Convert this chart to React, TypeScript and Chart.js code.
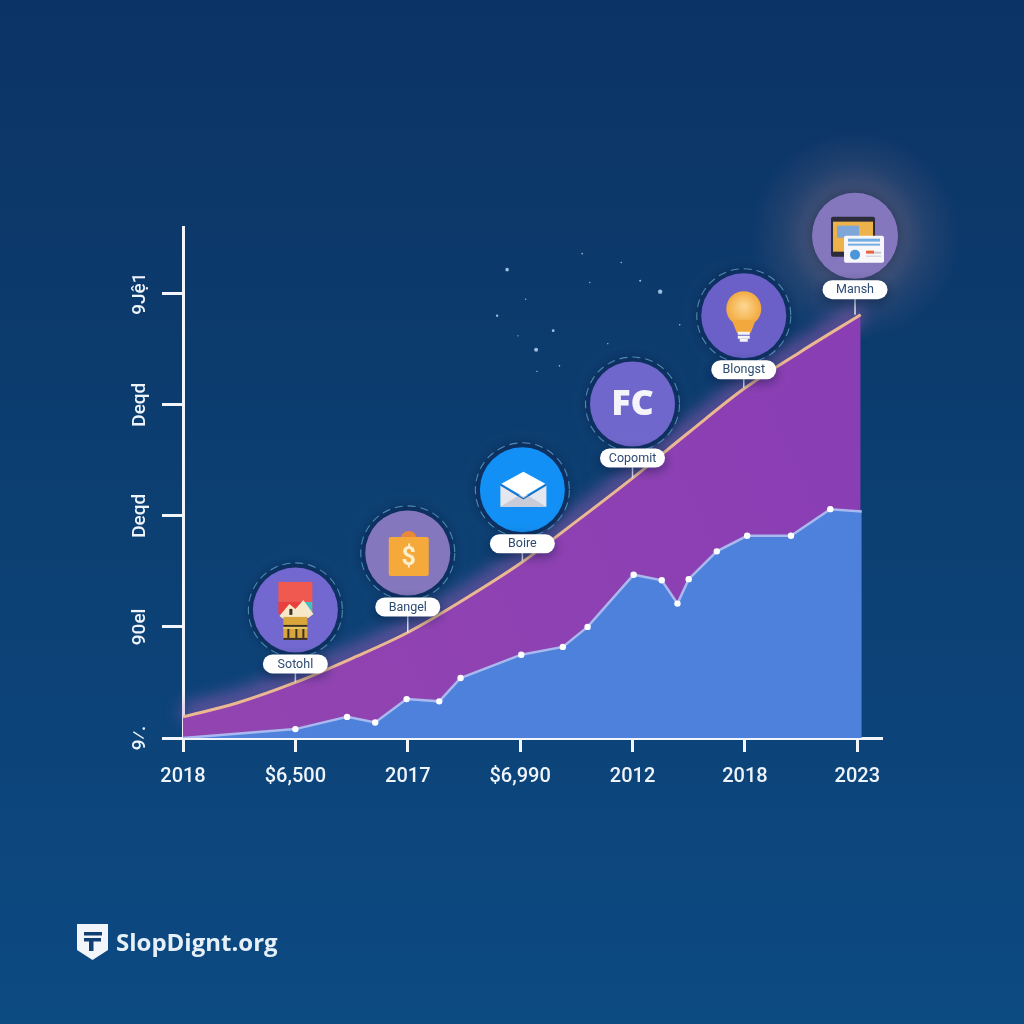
import React, { useEffect, useRef } from "react";
import { Chart, registerables } from "chart.js";

Chart.register(...registerables);

const xTickLabels = ["2018", "$6,500", "2017", "$6,990", "2012", "2018", "2023"];
const yTickLabels = ["9⁄.", "90el", "Deqd", "Deqd", "9Jệ1"];

const upperX = [0, 0.48, 1, 1.51, 2, 2.49, 3, 3.5, 4, 4.5, 5, 5.5, 6.03];
const upperY = [0.19, 0.315, 0.5, 0.72, 0.95, 1.24, 1.57, 1.95, 2.34, 2.75, 3.15, 3.48, 3.81];

const lowerX = [0, 1, 1.46, 1.71, 1.99, 2.28, 2.47, 3.01, 3.38, 3.6, 4.01, 4.26, 4.4, 4.5, 4.75, 5.02, 5.41, 5.76, 6.04];
const lowerY = [0, 0.08, 0.19, 0.14, 0.35, 0.33, 0.54, 0.75, 0.82, 1, 1.47, 1.42, 1.21, 1.43, 1.68, 1.82, 1.82, 2.06, 2.04];

const starX = [2.884, 4.246, 3.142, 2.795, 3.294, 4.068, 3.552, 3.9, 3.35, 3.05, 3.62, 4.42, 3.15, 3.78, 4.05, 2.98];
const starY = [4.216, 4.018, 3.495, 3.802, 3.667, 4.117, 4.36, 4.28, 3.35, 3.95, 4.1, 3.72, 3.3, 3.55, 3.42, 3.62];
const starR = [1.8, 2.2, 2, 1.2, 1.4, 1, 0.8, 0.8, 0.8, 0.7, 0.7, 0.8, 0.7, 0.7, 0.7, 0.7];

const calloutNames = ["Sotohl", "Bangel", "Boire", "Copomit", "Blongst", "Mansh"];
const calloutX = [1, 2, 3.02, 4, 4.99, 5.98];
const calloutPill = [0.667, 1.18, 1.748, 2.52, 3.315, 4.036];
const calloutBase = [0.5, 0.95, 1.59, 2.34, 3.15, 3.81];
const calloutFill = ["#7268cf", "#8577bd", "#1290f5", "#7067cc", "#6a60c8", "#8577bd"];
const calloutRing = [true, true, true, true, true, false];

const FONT = "Roboto, sans-serif";

function rr(c: CanvasRenderingContext2D, x: number, y: number, w: number, h: number, r: number) {
  c.beginPath();
  c.roundRect(x, y, w, h, r);
}
function poly(c: CanvasRenderingContext2D, cx: number, cy: number, pts: number[][], fill: string) {
  c.fillStyle = fill;
  c.beginPath();
  pts.forEach((p, i) => (i ? c.lineTo(cx + p[0], cy + p[1]) : c.moveTo(cx + p[0], cy + p[1])));
  c.closePath();
  c.fill();
}

const icons: ((c: CanvasRenderingContext2D, x: number, y: number) => void)[] = [
  (c, x, y) => {
    c.fillStyle = "#f0594f";
    c.fillRect(x - 17, y - 28, 34, 20);
    poly(c, x, y, [[-17, -8], [17, -8], [17, 4], [-17, 4]], "#ea3f3a");
    poly(c, x, y, [[6, -8], [17, -8], [17, 4]], "#45bfc4");
    poly(c, x, y, [[-16, 6], [-6, -6], [0, -1], [8, -10], [18, 4], [13, 8], [-12, 9]], "#f6e8c8");
    c.fillStyle = "#d9a63c";
    c.fillRect(x - 12, y + 7, 24, 23);
    c.fillStyle = "#3a3028";
    c.fillRect(x - 12, y + 15, 24, 2);
    c.fillRect(x - 6, y - 1, 3, 6);
    c.fillRect(x - 8, y + 19, 2, 9);
    c.fillRect(x + 0, y + 19, 2, 9);
    c.fillRect(x + 7, y + 19, 2, 9);
    c.fillRect(x - 12, y + 28, 24, 2);
    c.fillStyle = "#e8c860";
    c.fillRect(x - 12, y + 17, 24, 2);
  },
  (c, x, y) => {
    c.fillStyle = "#e8883a";
    c.beginPath();
    c.arc(x + 1, y - 14, 8, Math.PI, 0);
    c.fill();
    c.fillStyle = "#f4a93a";
    rr(c, x - 19, y - 16, 40, 39, 2);
    c.fill();
    c.fillStyle = "#fbeecb";
    c.font = `bold 25px ${FONT}`;
    c.textAlign = "center";
    c.textBaseline = "middle";
    c.fillText("$", x + 1, y + 6);
  },
  (c, x, y) => {
    poly(c, x, y, [[-22, -5], [1, 10], [24, -5], [24, 17], [-22, 17]], "#e4e8ee");
    poly(c, x, y, [[-22, 17], [1, 3], [24, 17]], "#c9ccd8");
    poly(c, x, y, [[-21, -6], [1, -18], [23, -6], [1, 7]], "#ffffff");
    c.strokeStyle = "#1a6ec4";
    c.lineWidth = 1.3;
    c.beginPath();
    c.moveTo(x - 22, y - 5);
    c.lineTo(x + 1, y + 9);
    c.lineTo(x + 24, y - 5);
    c.stroke();
  },
  (c, x, y) => {
    c.fillStyle = "#f4f4fa";
    c.font = `800 36px 'Open Sans', sans-serif`;
    c.textAlign = "center";
    c.textBaseline = "middle";
    c.fillText("FC", x, y + 1);
  },
  (c, x, y) => {
    const g = c.createRadialGradient(x, y - 10, 2, x, y - 7, 18);
    g.addColorStop(0, "#fbd38a");
    g.addColorStop(1, "#f2a83c");
    c.fillStyle = g;
    c.beginPath();
    c.arc(x, y - 7, 17.5, 0, Math.PI * 2);
    c.fill();
    poly(c, x, y, [[-12, 4], [12, 4], [7, 17], [-7, 17]], "#f2a83c");
    c.fillStyle = "#f3f3f3";
    c.fillRect(x - 6, y + 16, 12, 3);
    c.fillRect(x - 6, y + 20, 12, 3);
    c.fillRect(x - 4, y + 23, 8, 3);
  },
  (c, x, y) => {
    c.fillStyle = "#2b2b3a";
    rr(c, x - 24, y - 19, 44, 40, 2);
    c.fill();
    c.fillStyle = "#eeb24a";
    c.fillRect(x - 22, y - 14, 40, 30);
    c.fillStyle = "#7fa6d8";
    c.fillRect(x - 18, y - 10, 22, 12);
    c.fillStyle = "#f6f6fb";
    rr(c, x - 11, y, 40, 27, 2);
    c.fill();
    c.fillStyle = "#74aee0";
    c.fillRect(x - 7, y + 3, 32, 3);
    c.fillRect(x - 7, y + 8, 32, 2);
    c.fillStyle = "#4b96d8";
    c.beginPath();
    c.arc(x + 0, y + 19, 5, 0, Math.PI * 2);
    c.fill();
    c.fillStyle = "#e8663c";
    c.fillRect(x + 11, y + 15, 8, 3);
    c.fillStyle = "#c9c9d4";
    c.fillRect(x + 19, y + 16, 7, 2);
    c.fillRect(x + 11, y + 20, 15, 1);
  },
];

const backdrop = {
  id: "backdrop",
  beforeDraw(chart: any) {
    const c = chart.ctx as CanvasRenderingContext2D;
    const g = c.createLinearGradient(0, 0, 0, 1024);
    g.addColorStop(0, "#0c3365");
    g.addColorStop(0.5, "#0c3f72");
    g.addColorStop(1, "#0c4a82");
    c.fillStyle = g;
    c.fillRect(0, 0, 1024, 1024);
    const x = chart.scales.x.getPixelForValue(calloutX[5]);
    const y = chart.scales.y.getPixelForValue(calloutPill[5]) - 54;
    const h = c.createRadialGradient(x, y, 38, x, y, 105);
    h.addColorStop(0, "rgba(175,130,140,0.36)");
    h.addColorStop(0.5, "rgba(175,130,140,0.13)");
    h.addColorStop(1, "rgba(175,130,140,0)");
    c.fillStyle = h;
    c.fillRect(x - 110, y - 110, 220, 220);
    // logo
    c.fillStyle = "#f2f6fa";
    c.beginPath();
    c.moveTo(77, 924);
    c.lineTo(108, 924);
    c.lineTo(108, 950);
    c.lineTo(92.5, 960);
    c.lineTo(77, 950);
    c.closePath();
    c.fill();
    c.fillStyle = "#123f73";
    c.fillRect(84, 932, 18, 3.5);
    c.fillRect(84, 938, 17, 3.5);
    c.fillRect(89, 938, 4.5, 13);
    c.fillStyle = "#e6f0f8";
    c.font = "700 24px 'Open Sans', sans-serif";
    c.textAlign = "left";
    c.textBaseline = "middle";
    c.fillText("SlopDignt.org", 116, 944);
  },
  beforeDatasetsDraw(chart: any) {
    const c = chart.ctx as CanvasRenderingContext2D;
    const pts = chart.getDatasetMeta(1).data;
    c.save();
    c.filter = "blur(9px)";
    c.strokeStyle = "rgba(170,95,190,0.7)";
    c.lineWidth = 14;
    c.beginPath();
    pts.forEach((p: any, i: number) => (i ? c.lineTo(p.x, p.y - 3) : c.moveTo(p.x, p.y - 3)));
    c.stroke();
    c.restore();
  },
  afterDatasetsDraw(chart: any) {
    const c = chart.ctx as CanvasRenderingContext2D;
    const { x: sx, y: sy } = chart.scales;
    calloutNames.forEach((name, i) => {
      const x = sx.getPixelForValue(calloutX[i]);
      const py = sy.getPixelForValue(calloutPill[i]);
      const by = sy.getPixelForValue(calloutBase[i]);
      const cy = py - 54;
      c.strokeStyle = "#dfe6f0";
      c.lineWidth = 1.5;
      c.beginPath();
      c.moveTo(x, py);
      c.lineTo(x, by);
      c.stroke();

      c.save();
      c.shadowColor = "rgba(8,24,60,0.5)";
      c.shadowBlur = 12;
      c.fillStyle = calloutRing[i] ? "#0d3060" : calloutFill[i];
      c.beginPath();
      c.arc(x, cy, calloutRing[i] ? 46 : 43, 0, Math.PI * 2);
      c.fill();
      c.restore();
      if (calloutRing[i]) {
        c.save();
        c.strokeStyle = "#4f8ab3";
        c.lineWidth = 1.1;
        c.setLineDash([8, 5]);
        c.beginPath();
        c.arc(x, cy, 47, 0, Math.PI * 2);
        c.stroke();
        c.restore();
      }
      c.fillStyle = calloutFill[i];
      c.beginPath();
      c.arc(x, cy, 42.5, 0, Math.PI * 2);
      c.fill();
      icons[i](c, x, cy);

      c.font = `400 12.5px ${FONT}`;
      c.save();
      c.shadowColor = "rgba(8,24,60,0.55)";
      c.shadowBlur = 12;
      c.shadowOffsetY = 3;
      c.fillStyle = "#ffffff";
      rr(c, x - 32.5, py - 9.5, 65, 19, 9.5);
      c.fill();
      c.restore();
      c.fillStyle = "#2d4a72";
      c.textAlign = "center";
      c.textBaseline = "middle";
      c.fillText(name, x, py + 0.5);
    });
  },
};

export default function App() {
  const ref = useRef<HTMLCanvasElement>(null);
  useEffect(() => {
    const canvas = ref.current!;
    const ctx = canvas.getContext("2d")!;
    const purple = ctx.createLinearGradient(183, 700, 860, 400);
    purple.addColorStop(0, "#9244b0");
    purple.addColorStop(1, "#8a3eb4");
    const chart = new Chart(canvas, {
      type: "line",
      data: {
        datasets: [
          {
            data: lowerX.map((x, i) => ({ x, y: lowerY[i] })),
            borderColor: "#a9b9ef",
            borderWidth: 2.5,
            backgroundColor: "#4d81dc",
            fill: "origin",
            tension: 0,
            pointBackgroundColor: "#ffffff",
            pointBorderWidth: 0,
            pointRadius: (c: any) => (c.dataIndex === 0 || c.dataIndex === lowerX.length - 1 ? 0 : 3.2),
          },
          {
            data: upperX.map((x, i) => ({ x, y: upperY[i] })),
            borderColor: "#ebb892",
            borderWidth: 3,
            backgroundColor: purple,
            fill: "origin",
            tension: 0.4,
            cubicInterpolationMode: "monotone",
            pointRadius: 0,
          },
          {
            data: starX.map((x, i) => ({ x, y: starY[i] })),
            showLine: false,
            fill: false,
            pointBackgroundColor: "#9cc0e0",
            pointBorderWidth: 0,
            pointRadius: starR,
          },
        ],
      } as any,
      options: {
        responsive: false,
        animation: false,
        devicePixelRatio: 1,
        layout: { padding: { left: 100, right: 142, top: 227, bottom: 206 } },
        plugins: { legend: { display: false }, tooltip: { enabled: false } },
        scales: {
          x: {
            type: "linear",
            min: 0,
            max: 6.22,
            z: 1,
            afterFit: (s: any) => { s.height = 80; },
            border: { color: "#f2f6fa", width: 3 },
            grid: { drawOnChartArea: false, drawTicks: true, tickLength: 14, tickWidth: 3, tickColor: "#f2f6fa" },
            ticks: {
              stepSize: 1,
              includeBounds: false,
              maxRotation: 0,
              autoSkip: false,
              padding: 13,
              color: "#eef4fa",
              font: { family: "Roboto", size: 20, weight: "500" },
              callback: (v: any) => xTickLabels[v as number] ?? "",
            },
          },
          y: {
            type: "linear",
            min: 0,
            max: 4.6,
            z: 1,
            afterFit: (s: any) => { s.width = 83; },
            border: { color: "#f2f6fa", width: 3 },
            grid: { drawOnChartArea: false, drawTicks: true, tickLength: 21, tickWidth: 3, tickColor: "#f2f6fa" },
            ticks: {
              stepSize: 1,
              includeBounds: false,
              minRotation: 90,
              maxRotation: 90,
              padding: 0,
              crossAlign: "center",
              color: "#eef4fa",
              font: { family: "Roboto", size: 19, weight: "500" },
              callback: (v: any) => yTickLabels[v as number] ?? "",
            },
          },
        },
      } as any,
      plugins: [backdrop],
    });
    return () => chart.destroy();
  }, []);
  return (
    <div style={{ position: "fixed", left: 0, top: 0, width: 1024, height: 1024 }}>
      <canvas ref={ref} width={1024} height={1024} style={{ display: "block" }} />
    </div>
  );
}
